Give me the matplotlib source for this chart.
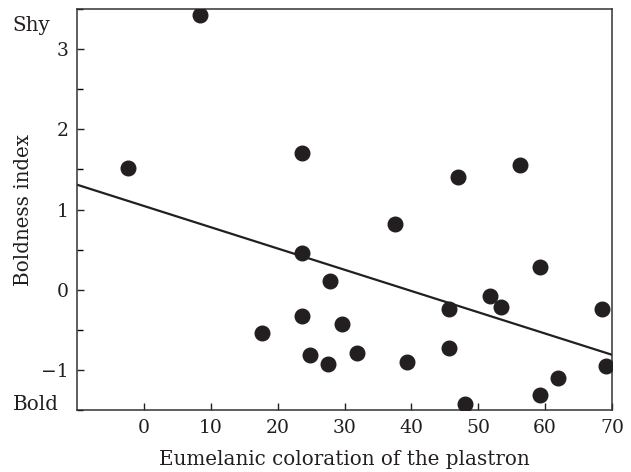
import numpy as np
import matplotlib.pyplot as plt
from matplotlib.ticker import MultipleLocator

# Eumelanic coloration vs boldness index
coloration = [-2.3, 8.4, 23.6, 23.6, 23.6, 17.7, 24.9, 27.6, 27.9, 29.6, 31.9,
              37.5, 39.4, 45.6, 45.6, 47.0, 48.0, 51.7, 53.4, 56.2, 59.2, 59.2,
              61.9, 68.5, 69.1]
boldness = [1.52, 3.43, 1.71, 0.46, -0.33, -0.54, -0.81, -0.93, 0.11, -0.43, -0.79,
            0.82, -0.90, -0.24, -0.73, 1.40, -1.42, -0.08, -0.21, 1.56, 0.28, -1.31,
            -1.10, -0.24, -0.95]

# fitted regression line (intercept, slope) as drawn in the figure
intercept = 1.045
slope = -0.0265

plt.rcParams['font.family'] = 'DejaVu Serif'
ink = '#231f20'
fs = 13.5
lfs = 14.3

fig = plt.figure(figsize=(6.31, 4.72), dpi=100)
ax = fig.add_axes([0.122, 0.131, 0.848, 0.850])

ax.plot(coloration, boldness, 'o', color=ink, markersize=10.5, zorder=3)
xl = np.array([-10, 70])
ax.plot(xl, intercept + slope * xl, color=ink, linewidth=1.6)

ax.set_xlim(-10, 70)
ax.set_ylim(-1.5, 3.5)
ax.set_xticks([0, 10, 20, 30, 40, 50, 60, 70])
ax.set_yticks([-1, 0, 1, 2, 3])
ax.set_yticklabels(['\u22121', '0', '1', '2', '3'])
ax.yaxis.set_minor_locator(MultipleLocator(0.5))
ax.tick_params(axis='both', which='major', direction='in', length=5, width=1,
               labelsize=fs, colors=ink, pad=6)
ax.tick_params(axis='y', which='minor', direction='in', length=4, width=1)
for s in ax.spines.values():
    s.set_linewidth(1.1)
    s.set_color('#333333')

ax.set_xlabel('Eumelanic coloration of the plastron', fontsize=lfs, color=ink, labelpad=10)
ax.set_ylabel('Boldness index', fontsize=lfs, color=ink, labelpad=6)

fig.text(0.02, 0.935, 'Shy', fontsize=lfs, color=ink)
fig.text(0.02, 0.132, 'Bold', fontsize=lfs, color=ink)

fig.savefig('out.png', dpi=100)
